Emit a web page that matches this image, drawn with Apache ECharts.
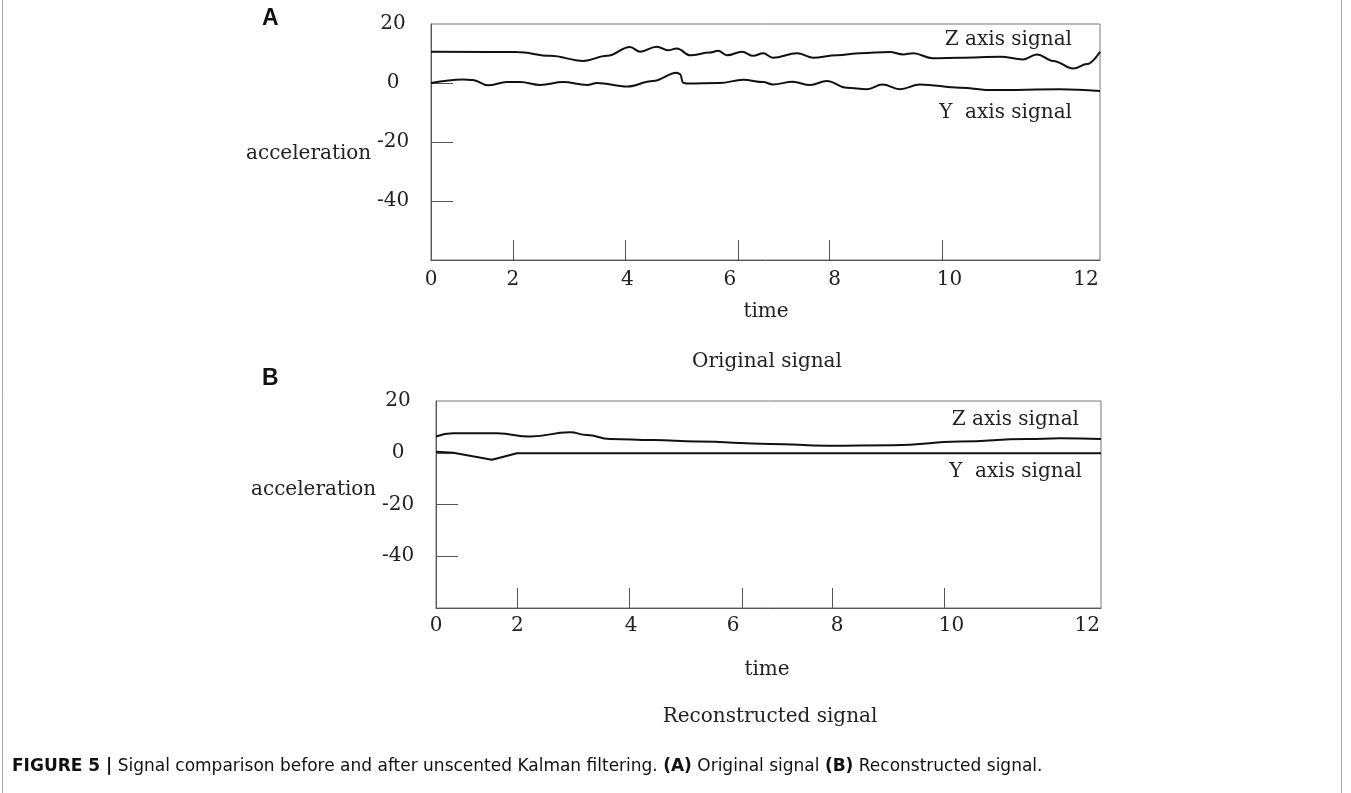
<!DOCTYPE html>
<html>
<head>
<meta charset="utf-8">
<script src="https://cdn.jsdelivr.net/npm/echarts@6/dist/echarts.min.js"></script>
<style>
html,body{margin:0;padding:0;background:#fff;}
#chart{width:1351px;height:793px;}
</style>
</head>
<body>
<div id="chart"></div>
<script>
// ---- data ----
// Panel A: original signal
const timeAZ = [0, 1.54, 2.14, 2.73, 3.16, 3.57, 3.75, 4.05, 4.25, 4.41, 4.65, 5.0, 5.15, 5.31, 5.58, 5.78, 5.96, 6.13, 6.57, 6.85, 7.28, 7.70, 8.23, 8.47, 8.65, 9.00, 9.49, 10.21, 10.62, 10.87, 11.16, 11.52, 11.77, 12];
const zA =     [10.6, 10.5, 9.2, 7.5, 9.2, 12.2, 10.6, 12.3, 11.1, 11.7, 9.4, 10.3, 10.9, 9.4, 10.6, 9.2, 10.1, 8.6, 10.1, 8.6, 9.4, 10.1, 10.5, 9.7, 10.1, 8.4, 8.6, 8.9, 8.0, 9.7, 7.5, 4.9, 6.4, 10.6];
const timeAY = [0, 0.57, 0.75, 1.02, 1.36, 1.6, 1.96, 2.37, 2.8, 2.98, 3.52, 3.98, 4.41, 4.47, 4.52, 4.59, 5.18, 5.6, 5.96, 6.13, 6.49, 6.8, 7.1, 7.46, 7.82, 8.1, 8.41, 8.77, 9.49, 10.08, 11.28, 12];
const yA =     [0, 1.2, 1.0, -0.8, 0.3, 0.3, -0.7, 0.3, -0.7, 0, -1.2, 0.7, 3.5, 3.0, 0.1, -0.2, 0, 1.1, 0.3, -0.5, 0.4, -0.7, 0.7, -1.6, -2.1, -0.5, -2.1, -0.5, -1.6, -2.4, -2.1, -2.7];
// Panel B: reconstructed signal
const timeBZ = [0, 0.31, 1.1, 1.7, 2.42, 2.72, 3.14, 3.92, 4.71, 6.03, 7.06, 8.25, 9.45, 10.66, 11.26, 12];
const zB =     [6.3, 7.5, 7.5, 6.3, 7.9, 6.9, 5.3, 4.9, 4.3, 3.4, 2.7, 2.9, 4.3, 5.3, 5.6, 5.3];
const timeBY = [0, 0.31, 1.01, 1.46, 12];
const yB =     [0.4, 0, -2.7, -0.2, -0.2];
// axis ticks / labels (the original figure places them irregularly)
const xTickPos   = [1.47, 3.49, 5.52, 7.15, 9.17];
const xLabelPos  = [0, 1.47, 3.52, 5.36, 7.24, 9.3, 11.75];
const xLabelText = ['0', '2', '4', '6', '8', '10', '12'];
const yLabelVals = [20, 0, -20, -40];
const yTickVals  = [0, -20, -40];

const pairs = (xs, ys) => xs.map((x, i) => [x, ys[i]]);
const SERIF = 'DejaVu Serif';
const SANS = 'DejaVu Sans';
const AXIS_COLOR = '#555';

function xAxis(gi, margin) {
  return {
    type: 'value', gridIndex: gi, min: 0, max: 12,
    axisLine: { show: true, onZero: false, lineStyle: { color: AXIS_COLOR, width: 1 } },
    axisTick: { show: true, inside: true, length: 20, customValues: xTickPos, lineStyle: { color: AXIS_COLOR } },
    axisLabel: {
      customValues: xLabelPos, margin: margin,
      fontFamily: SERIF, fontSize: 20, color: '#222',
      formatter: v => { const i = xLabelPos.findIndex(p => Math.abs(p - v) < 1e-6); return i >= 0 ? xLabelText[i] : ''; }
    },
    splitLine: { show: false }
  };
}
function yAxis(gi) {
  return {
    type: 'value', gridIndex: gi, min: -60, max: 20, interval: 20,
    axisLine: { show: true, onZero: false, lineStyle: { color: AXIS_COLOR, width: 1 } },
    axisTick: { show: true, inside: true, length: 22, customValues: yTickVals, lineStyle: { color: AXIS_COLOR } },
    axisLabel: { customValues: yLabelVals, margin: 38, align: 'center', fontFamily: SERIF, fontSize: 20, color: '#222' },
    splitLine: { show: false }
  };
}
const lineSeries = (name, data, xi, smooth) => ({
  name, type: 'line', xAxisIndex: xi, yAxisIndex: xi, data,
  showSymbol: false, smooth: smooth, smoothMonotone: 'x',
  lineStyle: { color: '#111', width: 2 }, silent: true, animation: false
});
const txt = (text, x, y, opts) => ({
  type: 'text', x, y, silent: true,
  style: Object.assign({ text, fill: '#222', font: '20px "DejaVu Serif"', textVerticalAlign: 'middle' }, opts || {})
});

const chart = echarts.init(document.getElementById('chart'), null, { renderer: 'canvas' });
chart.setOption({
  animation: false,
  backgroundColor: '#fff',
  grid: [
    { left: 431, top: 24, width: 669, height: 236, show: true, borderColor: '#777', borderWidth: 1, backgroundColor: 'transparent' },
    { left: 436, top: 401, width: 665, height: 207, show: true, borderColor: '#777', borderWidth: 1, backgroundColor: 'transparent' }
  ],
  xAxis: [xAxis(0, 10), xAxis(1, 8)],
  yAxis: [yAxis(0), yAxis(1)],
  series: [
    lineSeries('Z axis signal A', pairs(timeAZ, zA), 0, 0.4),
    lineSeries('Y axis signal A', pairs(timeAY, yA), 0, 0.4),
    lineSeries('Z axis signal B', pairs(timeBZ, zB), 1, 0.5),
    lineSeries('Y axis signal B', pairs(timeBY, yB), 1, false)
  ],
  graphic: [
    { type: 'line', silent: true, shape: { x1: 2.5, y1: 0, x2: 2.5, y2: 793 }, style: { stroke: '#aaa', lineWidth: 1 } },
    { type: 'line', silent: true, shape: { x1: 1341.5, y1: 0, x2: 1341.5, y2: 793 }, style: { stroke: '#aaa', lineWidth: 1 } },
    txt('A', 262, 19, { font: 'bold 23px "Liberation Sans"', fill: '#111' }),
    txt('B', 262, 379, { font: 'bold 23px "Liberation Sans"', fill: '#111' }),
    txt('acceleration', 246, 154),
    txt('acceleration', 251, 490),
    txt('Z axis signal', 1072, 40, { textAlign: 'right' }),
    txt('Y  axis signal', 1072, 113, { textAlign: 'right' }),
    txt('Z axis signal', 1079, 420, { textAlign: 'right' }),
    txt('Y  axis signal', 1082, 472, { textAlign: 'right' }),
    txt('time', 766, 312, { textAlign: 'center' }),
    txt('Original signal', 767, 362, { textAlign: 'center' }),
    txt('time', 767, 670, { textAlign: 'center' }),
    txt('Reconstructed signal', 770, 717, { textAlign: 'center' }),
    {
      type: 'text', x: 12, y: 767, silent: true,
      style: {
        text: '{b|FIGURE 5 |} Signal comparison before and after unscented Kalman filtering. {b|(A)} Original signal {b|(B)} Reconstructed signal.',
        font: '17px "DejaVu Sans"', fill: '#111', textVerticalAlign: 'middle',
        rich: { b: { fontWeight: 'bold', fontFamily: SANS, fontSize: 17, fill: '#111' } }
      }
    }
  ]
});
</script>
</body>
</html>
